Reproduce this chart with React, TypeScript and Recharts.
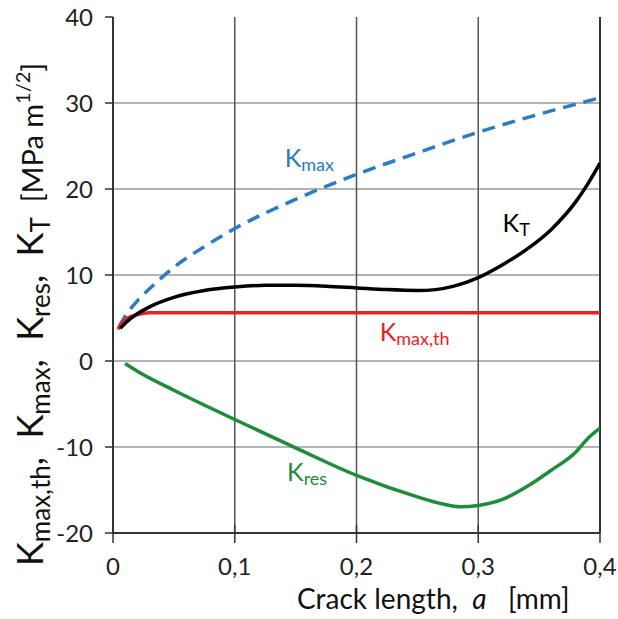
import { LineChart, Line, XAxis, YAxis, ReferenceLine, ReferenceDot } from "recharts"

// crack length a [mm] and stress intensity factors [MPa m^1/2]
const kmaxA = [0.005, 0.01, 0.02, 0.03, 0.05, 0.075, 0.1, 0.15, 0.2, 0.25, 0.3, 0.35, 0.4]
const kmaxV = [4.0, 5.2, 7.0, 8.4, 10.9, 13.3, 15.4, 18.8, 21.7, 24.2, 26.6, 28.7, 30.6]

const kthA = [0.004, 0.01, 0.02, 0.03, 0.05, 0.1, 0.2, 0.3, 0.4]
const kthV = [3.7, 4.8, 5.4, 5.6, 5.6, 5.6, 5.6, 5.6, 5.6]

const ktA = [0.006, 0.01, 0.02, 0.03, 0.05, 0.075, 0.1, 0.125, 0.15, 0.175, 0.2, 0.225, 0.25, 0.265, 0.28, 0.3, 0.32, 0.34, 0.36, 0.38, 0.39, 0.4]
const ktV = [3.8, 4.4, 5.5, 6.3, 7.4, 8.2, 8.6, 8.8, 8.8, 8.7, 8.5, 8.3, 8.2, 8.3, 8.7, 9.7, 11.2, 13.0, 15.3, 18.5, 20.6, 23.0]

const kresA = [0.01, 0.02, 0.05, 0.1, 0.15, 0.2, 0.25, 0.27, 0.285, 0.3, 0.32, 0.34, 0.36, 0.38, 0.39, 0.4]
const kresV = [-0.3, -1.2, -3.4, -6.8, -10.1, -13.3, -15.8, -16.6, -16.95, -16.8, -16.1, -14.6, -12.7, -10.6, -9.0, -7.8]

const xTicks = [0, 0.1, 0.2, 0.3, 0.4]
const yTicks = [-20, -10, 0, 10, 20, 30, 40]

const toRows = (a: number[], v: number[]) => a.map((x, i) => ({ a: x, k: v[i] }))

const FONT = "Lato, 'Open Sans', sans-serif"
const fmtX = (v: number) => (v === 0 ? "0" : v.toFixed(1).replace(".", ","))

const XTick = (props: any) => {
  const { x, y, payload } = props
  return (
    <g>
      <line x1={x} x2={x} y1={y - 10} y2={y + 8} stroke="#333" strokeWidth={1.5} />
      <text x={x} y={y + 40} textAnchor="middle" fontSize={24} fontFamily={FONT} fill="#222">
        {fmtX(payload.value)}
      </text>
    </g>
  )
}

const YTitle = () => (
  <text transform="translate(43, 566) rotate(-90)" fontSize={36} fontFamily={FONT} fill="#111" style={{ whiteSpace: "pre" }}>
    <tspan>K</tspan>
    <tspan fontSize={26} dy={7}>max,th</tspan>
    <tspan dy={-7}>,  K</tspan>
    <tspan fontSize={26} dy={7}>max</tspan>
    <tspan dy={-7}>,  K</tspan>
    <tspan fontSize={26} dy={7}>res</tspan>
    <tspan dy={-7}>,  K</tspan>
    <tspan fontSize={26} dy={7}>T</tspan>
    <tspan dy={-7} fontSize={29}>{"  [MPa m"}</tspan>
    <tspan fontSize={20} dy={-13}>1/2</tspan>
    <tspan fontSize={29} dy={13}>]</tspan>
  </text>
)

const XTitle = () => (
  <text x={297} y={609} fontSize={28} fontFamily={FONT} fill="#111" style={{ whiteSpace: "pre" }}>
    <tspan>{"Crack length,  "}</tspan>
    <tspan fontStyle="italic">a</tspan>
    <tspan>{"   [mm]"}</tspan>
  </text>
)

const seriesLabel = (main: string, sub: string, color: string) => (props: any) => {
  const { viewBox } = props
  const x = viewBox.x + (viewBox.width || 0) / 2
  const y = viewBox.y + (viewBox.height || 0) / 2
  return (
    <text x={x} y={y} fontSize={25} fontFamily={FONT} fill={color}>
      <tspan>{main}</tspan>
      <tspan fontSize={18} dy={4}>{sub}</tspan>
    </text>
  )
}

export default function App() {
  return (
    <div style={{ position: "absolute", left: 0, top: 0, width: 618, height: 619, background: "#fff" }}>
      <LineChart width={618} height={619} margin={{ top: 17, right: 18, bottom: 56, left: 0 }}>
        <XAxis
          dataKey="a"
          type="number"
          domain={[0, 0.4]}
          ticks={xTicks}
          tick={<XTick />}
          tickLine={false}
          tickSize={0}
          height={30}
          axisLine={{ stroke: "#333", strokeWidth: 2 }}
          allowDataOverflow
          label={{ content: <XTitle /> }}
        />
        <YAxis
          type="number"
          domain={[-20, 40]}
          ticks={yTicks}
          width={113}
          tickSize={8}
          tickMargin={12}
          tickLine={{ stroke: "#333", strokeWidth: 1.5 }}
          axisLine={{ stroke: "#333", strokeWidth: 2 }}
          tick={{ fontSize: 24, fontFamily: FONT, fill: "#222" }}
          allowDataOverflow
          label={{ content: <YTitle /> }}
        />
        {yTicks.slice(1, -1).map((v) => (
          <ReferenceLine key={"h" + v} y={v} stroke="#9a9a9a" strokeWidth={1.5} />
        ))}
        {xTicks.slice(1, -1).map((v) => (
          <ReferenceLine key={"v" + v} x={v} stroke="#555" strokeWidth={1.5} />
        ))}
        <ReferenceLine x={0.4} stroke="#333" strokeWidth={2} />
        <Line data={toRows(kmaxA, kmaxV)} dataKey="k" type="monotone" stroke="#2a7cc4" strokeWidth={3.5} strokeDasharray="13 8" dot={false} isAnimationActive={false} />
        <Line data={toRows(kresA, kresV)} dataKey="k" type="monotone" stroke="#1e8c3a" strokeWidth={3.5} dot={false} isAnimationActive={false} />
        <Line data={toRows(kthA, kthV)} dataKey="k" type="monotone" stroke="#ee1c25" strokeWidth={3.5} dot={false} isAnimationActive={false} />
        <Line data={toRows(ktA, ktV)} dataKey="k" type="monotone" stroke="#000" strokeWidth={3.5} dot={false} isAnimationActive={false} />
        <ReferenceDot x={0.141} y={22.6} r={0} fill="none" stroke="none" label={{ content: seriesLabel("K", "max", "#2a7cc4") }} />
        <ReferenceDot x={0.32} y={15.0} r={0} fill="none" stroke="none" label={{ content: seriesLabel("K", "T", "#000") }} />
        <ReferenceDot x={0.219} y={2.3} r={0} fill="none" stroke="none" label={{ content: seriesLabel("K", "max,th", "#ee1c25") }} />
        <ReferenceDot x={0.143} y={-14.0} r={0} fill="none" stroke="none" label={{ content: seriesLabel("K", "res", "#1e8c3a") }} />
      </LineChart>
    </div>
  )
}
